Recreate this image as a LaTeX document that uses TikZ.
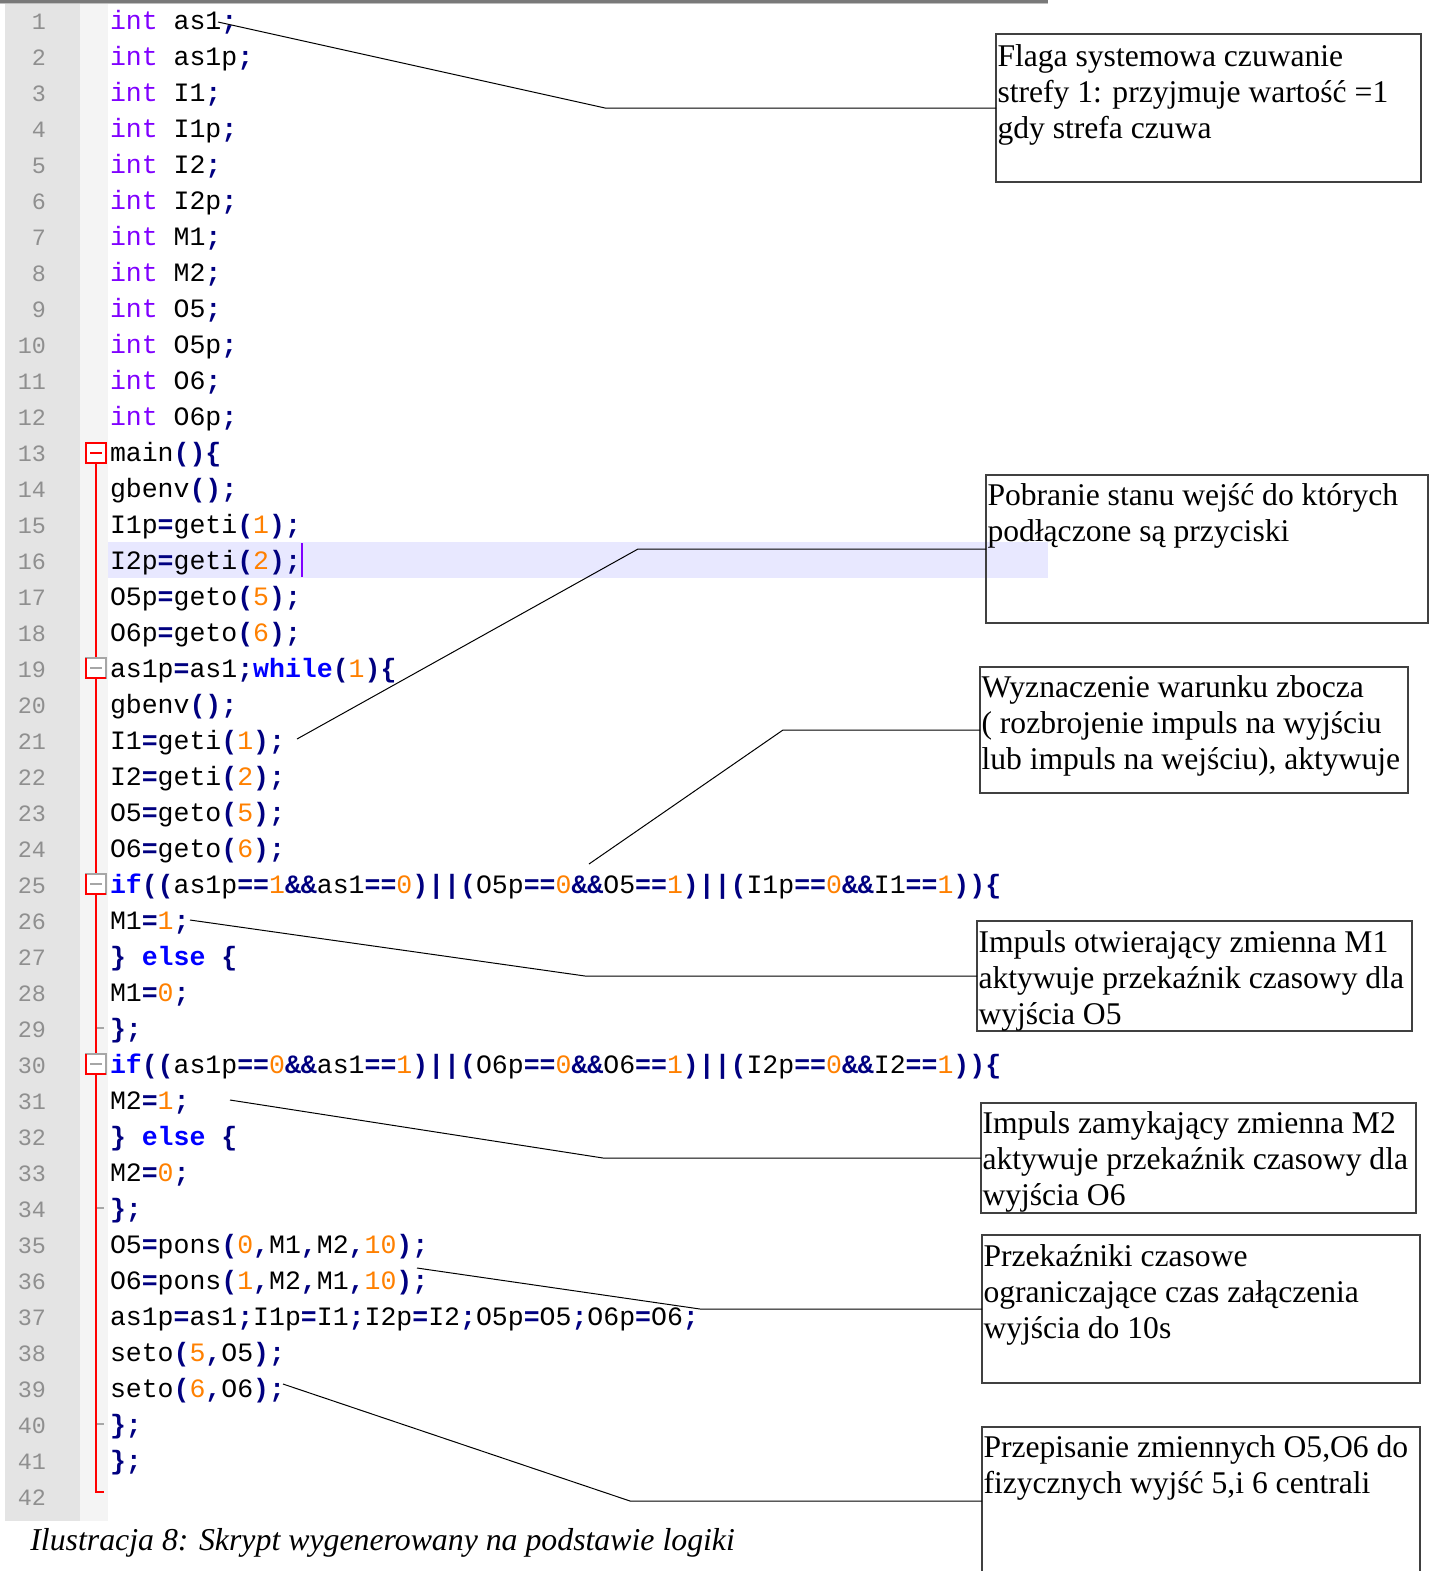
\documentclass[tikz,border=0pt]{standalone}
\usepackage{fontspec}
\setmainfont{Liberation Serif}
\newfontfamily\codefont{Liberation Mono}
\definecolor{ctype}{HTML}{8000FF}
\definecolor{ckw}{HTML}{0000FF}
\definecolor{cop}{HTML}{000080}
\definecolor{cnum}{HTML}{FF8000}
\definecolor{clnum}{HTML}{8F8F8F}
\definecolor{cgutter}{HTML}{E4E4E4}
\definecolor{cfold}{HTML}{F4F4F4}
\definecolor{chl}{HTML}{E8E8FF}
\definecolor{ccursor}{HTML}{8000FF}
\definecolor{cbox}{HTML}{404040}
\newcommand\Ty[1]{\textcolor{ctype}{#1}}
\newcommand\Kw[1]{\textcolor{ckw}{\bfseries #1}}
\newcommand\Op[1]{\textcolor{cop}{\bfseries #1}}
\newcommand\Nu[1]{\textcolor{cnum}{#1}}
\begin{document}
\begin{tikzpicture}[x=0.5pt,y=-0.5pt,
  code/.style={anchor=base west, inner sep=0, outer sep=0, yshift=-1pt, font=\codefont\fontsize{13.26}{18}\selectfont},
  lnum/.style={anchor=base east, inner sep=0, outer sep=0, yshift=-1pt, text=clnum, font=\codefont\fontsize{11.7}{18}\selectfont},
  notebox/.style={draw=cbox, line width=0.65pt, inner sep=0, outer sep=0, anchor=north west},
  notetext/.style={anchor=north west, inner sep=0, outer sep=0, align=left, font=\fontsize{15.8}{18}\selectfont},
  conn/.style={draw=black, line width=0.5pt}]
\useasboundingbox (0,0) rectangle (1433,1571);
\clip (0,0) rectangle (1433,1571);
% editor background
\fill[cgutter] (5,3) rectangle (80,1521);
\fill[cfold] (80,3) rectangle (108,1521);
\fill[gray!95!black] (0,0) rectangle (1048,2.5);
\fill[gray!50] (0,2.5) rectangle (1048,4);
\fill[chl] (108,542) rectangle (1048,578);
% fold markers
\draw[red, line width=1pt] (96,463) -- (96,1492) -- (104,1492);
\draw[red, line width=0.8pt, fill=white] (86,443) rectangle (106,463);
\draw[red, line width=0.8pt] (90,453) -- (102,453);
\foreach \c in {668,884,1064} {
  \draw[gray!70, line width=0.6pt, fill=white] (86,\c-10) rectangle (106,\c+10);
  \draw[gray!70, line width=0.7pt] (90,\c) -- (102,\c);
  \draw[red, line width=0.8pt] (86,\c-10) -- (86,\c+10) -- (106,\c+10);
}
\foreach \c in {1028,1208,1424} \draw[gray!70, line width=0.6pt] (97,\c) -- (104,\c);
% line numbers
\foreach \k in {1,...,42} \node[lnum] (n\k) at (46,{27+36*(\k-1)}) {\k};
% code
\node[code] (l1) at (110,27) {\Ty{int} as1\Op{;}};
\node[code] (l2) at (110,63) {\Ty{int} as1p\Op{;}};
\node[code] (l3) at (110,99) {\Ty{int} I1\Op{;}};
\node[code] (l4) at (110,135) {\Ty{int} I1p\Op{;}};
\node[code] (l5) at (110,171) {\Ty{int} I2\Op{;}};
\node[code] (l6) at (110,207) {\Ty{int} I2p\Op{;}};
\node[code] (l7) at (110,243) {\Ty{int} M1\Op{;}};
\node[code] (l8) at (110,279) {\Ty{int} M2\Op{;}};
\node[code] (l9) at (110,315) {\Ty{int} O5\Op{;}};
\node[code] (l10) at (110,351) {\Ty{int} O5p\Op{;}};
\node[code] (l11) at (110,387) {\Ty{int} O6\Op{;}};
\node[code] (l12) at (110,423) {\Ty{int} O6p\Op{;}};
\node[code] (l13) at (110,459) {main\Op{()\{}};
\node[code] (l14) at (110,495) {gbenv\Op{();}};
\node[code] (l15) at (110,531) {I1p\Op{=}geti\Op{(}\Nu{1}\Op{);}};
\node[code] (l16) at (110,567) {I2p\Op{=}geti\Op{(}\Nu{2}\Op{);}};
\node[code] (l17) at (110,603) {O5p\Op{=}geto\Op{(}\Nu{5}\Op{);}};
\node[code] (l18) at (110,639) {O6p\Op{=}geto\Op{(}\Nu{6}\Op{);}};
\node[code] (l19) at (110,675) {as1p\Op{=}as1\Op{;}\Kw{while}\Op{(}\Nu{1}\Op{)\{}};
\node[code] (l20) at (110,711) {gbenv\Op{();}};
\node[code] (l21) at (110,747) {I1\Op{=}geti\Op{(}\Nu{1}\Op{);}};
\node[code] (l22) at (110,783) {I2\Op{=}geti\Op{(}\Nu{2}\Op{);}};
\node[code] (l23) at (110,819) {O5\Op{=}geto\Op{(}\Nu{5}\Op{);}};
\node[code] (l24) at (110,855) {O6\Op{=}geto\Op{(}\Nu{6}\Op{);}};
\node[code] (l25) at (110,891) {\Kw{if}\Op{((}as1p\Op{==}\Nu{1}\Op{\&\&}as1\Op{==}\Nu{0}\Op{)||(}O5p\Op{==}\Nu{0}\Op{\&\&}O5\Op{==}\Nu{1}\Op{)||(}I1p\Op{==}\Nu{0}\Op{\&\&}I1\Op{==}\Nu{1}\Op{))\{}};
\node[code] (l26) at (110,927) {M1\Op{=}\Nu{1}\Op{;}};
\node[code] (l27) at (110,963) {\Op{\}} \Kw{else} \Op{\{}};
\node[code] (l28) at (110,999) {M1\Op{=}\Nu{0}\Op{;}};
\node[code] (l29) at (110,1035) {\Op{\};}};
\node[code] (l30) at (110,1071) {\Kw{if}\Op{((}as1p\Op{==}\Nu{0}\Op{\&\&}as1\Op{==}\Nu{1}\Op{)||(}O6p\Op{==}\Nu{0}\Op{\&\&}O6\Op{==}\Nu{1}\Op{)||(}I2p\Op{==}\Nu{0}\Op{\&\&}I2\Op{==}\Nu{1}\Op{))\{}};
\node[code] (l31) at (110,1107) {M2\Op{=}\Nu{1}\Op{;}};
\node[code] (l32) at (110,1143) {\Op{\}} \Kw{else} \Op{\{}};
\node[code] (l33) at (110,1179) {M2\Op{=}\Nu{0}\Op{;}};
\node[code] (l34) at (110,1215) {\Op{\};}};
\node[code] (l35) at (110,1251) {O5\Op{=}pons\Op{(}\Nu{0}\Op{,}M1\Op{,}M2\Op{,}\Nu{10}\Op{);}};
\node[code] (l36) at (110,1287) {O6\Op{=}pons\Op{(}\Nu{1}\Op{,}M2\Op{,}M1\Op{,}\Nu{10}\Op{);}};
\node[code] (l37) at (110,1323) {as1p\Op{=}as1\Op{;}I1p\Op{=}I1\Op{;}I2p\Op{=}I2\Op{;}O5p\Op{=}O5\Op{;}O6p\Op{=}O6\Op{;}};
\node[code] (l38) at (110,1359) {seto\Op{(}\Nu{5}\Op{,}O5\Op{);}};
\node[code] (l39) at (110,1395) {seto\Op{(}\Nu{6}\Op{,}O6\Op{);}};
\node[code] (l40) at (110,1431) {\Op{\};}};
\node[code] (l41) at (110,1467) {\Op{\};}};
% cursor
\draw[ccursor, line width=1pt] (302,543) -- (302,577);
% annotation boxes
\node[notebox, minimum width=212.5pt, minimum height=74pt] (box1) at (996,34) {};
\node[notebox, minimum width=221pt, minimum height=74pt] (box2) at (986,475) {};
\node[notebox, minimum width=214pt, minimum height=63pt] (box3) at (980,667) {};
\node[notebox, minimum width=217.5pt, minimum height=55pt] (box4) at (977,921) {};
\node[notebox, minimum width=217.5pt, minimum height=55pt] (box5) at (981,1103) {};
\node[notebox, minimum width=219pt, minimum height=74pt] (box6) at (982,1235) {};
\node[notebox, minimum width=219pt, minimum height=74pt] (box7) at (982,1427) {};
\node[notetext] (t1) at ([shift={(1.5,7.5)}]box1.north west) {\strut Flaga systemowa czuwanie\\strefy 1: przyjmuje wartość =1\\gdy strefa czuwa};
\node[notetext] (t2) at ([shift={(1.5,5.5)}]box2.north west) {\strut Pobranie stanu wejść do których\\podłączone są przyciski};
\node[notetext] (t3) at ([shift={(1.5,5.5)}]box3.north west) {\strut Wyznaczenie warunku zbocza\\( rozbrojenie impuls na wyjściu\\lub impuls na wejściu), aktywuje};
\node[notetext] (t4) at ([shift={(1.5,6)}]box4.north west) {\strut Impuls otwierający zmienna M1\\aktywuje przekaźnik czasowy dla\\wyjścia O5};
\node[notetext] (t5) at ([shift={(1.5,5.5)}]box5.north west) {\strut Impuls zamykający zmienna M2\\aktywuje przekaźnik czasowy dla\\wyjścia O6};
\node[notetext] (t6) at ([shift={(1.5,6)}]box6.north west) {\strut Przekaźniki czasowe\\ograniczające czas załączenia\\wyjścia do 10s};
\node[notetext] (t7) at ([shift={(1.5,5)}]box7.north west) {\strut Przepisanie zmiennych O5,O6 do\\fizycznych wyjść 5,i 6 centrali};
% connectors
\coordinate (p1) at (218,22);
\coordinate (p2) at (297,739);
\coordinate (p3) at (589,864);
\coordinate (p4) at (190,920);
\coordinate (p5) at (230,1100);
\coordinate (p6) at (417,1268);
\coordinate (p7) at (283,1384);
\draw[conn] (p1) -- (605,0 |- box1.west) -- (box1.west);
\draw[conn] (p2) -- (638,0 |- box2.west) -- (box2.west);
\draw[conn] (p3) -- (783,0 |- box3.west) -- (box3.west);
\draw[conn] (p4) -- (585,0 |- box4.west) -- (box4.west);
\draw[conn] (p5) -- (603,0 |- box5.west) -- (box5.west);
\draw[conn] (p6) -- (700,0 |- box6.west) -- (box6.west);
\draw[conn] (p7) -- (630,0 |- box7.west) -- (box7.west);
% caption
\node[anchor=base west, inner sep=0, font=\fontsize{15.9}{18}\selectfont\itshape] (cap) at (30,1550) {Ilustracja 8: Skrypt wygenerowany na podstawie logiki};
\end{tikzpicture}
\end{document}
